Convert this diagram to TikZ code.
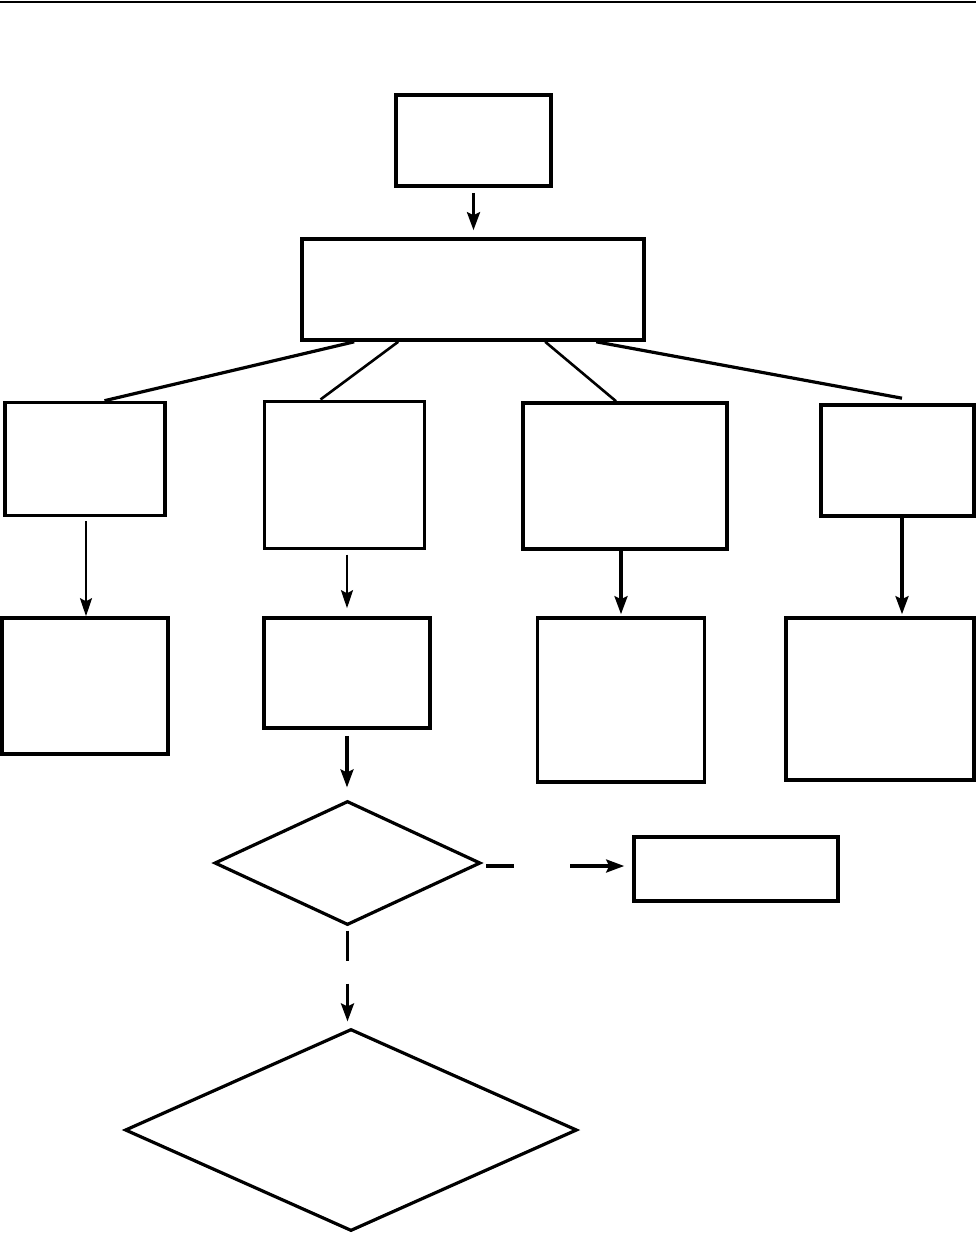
\documentclass[tikz,border=0pt]{standalone}
\usepackage{tikz}
\usetikzlibrary{arrows.meta}
\usetikzlibrary{shapes.geometric,calc}

\begin{document}
\begin{tikzpicture}[x=1pt,y=-1pt,
	box/.style={draw, rectangle, line width=3.6pt, inner sep=0pt},
	dec/.style={draw, diamond, line width=3.2pt, inner sep=0pt},
	arr/.style={-{Stealth[length=18pt,width=13pt,inset=3pt]}, line width=3.2pt},
	tarr/.style={-{Stealth[length=18pt,width=12pt,inset=3pt]}, line width=2pt},
	link/.style={line width=3.2pt}]
	\useasboundingbox (0,0) rectangle (976,1234);
	\draw[line width=1.8pt] (0,2) -- (976,2);
	% top
	\node[box, minimum width=155pt, minimum height=91pt] (s) at (473.5,140.5) {};
	\node[box, minimum width=342pt, minimum height=101pt] (m) at (473,289.5) {};
	% second row
	\node[box, minimum width=160pt, minimum height=113pt] (a) at (85,459) {};
	\node[box, line width=3pt, minimum width=160pt, minimum height=147pt] (b) at (344,474.5) {};
	\node[box, minimum width=204pt, minimum height=146pt] (c) at (625,476) {};
	\node[box, minimum width=153pt, minimum height=111pt] (d) at (897.5,460.5) {};
	% third row
	\node[box, minimum width=166pt, minimum height=136pt] (a2) at (85,686) {};
	\node[box, minimum width=166pt, minimum height=110pt] (b2) at (347,673) {};
	\node[box, minimum width=167pt, minimum height=164pt] (c2) at (621,700) {};
	\node[box, minimum width=188pt, minimum height=162pt] (d2) at (880,699) {};
	% decisions
	\node[dec, minimum width=266pt, minimum height=124pt] (q1) at (347.5,863) {};
	\node[box, minimum width=204pt, minimum height=64pt] (r) at (736,869) {};
	\node[dec, minimum width=452pt, minimum height=202pt] (q2) at (351,1130) {};

	\draw[arr, shorten <=5pt, shorten >=7pt] (s.south) -- (s.south |- m.north);
	\draw[link] ([xshift=54pt]m.south west) -- ([xshift=19.5pt]a.north);
	\draw[link, line width=2.6pt] ([xshift=98pt]m.south west) -- ([xshift=-23.5pt]b.north);
	\draw[link, line width=2.6pt] ([xshift=245pt]m.south west) -- ([xshift=-9pt]c.north);
	\draw[link] ([xshift=296pt]m.south west) -- ([xshift=4.5pt,yshift=5pt]d.north);

	\draw[tarr, shorten <=4pt] ([xshift=1pt]a.south) -- ([xshift=1pt]a.south |- a2.north);
	\draw[tarr, shorten <=5pt, shorten >=8pt] ([xshift=3pt]b.south) -- ([xshift=3pt]b.south |- b2.north);
	\draw[arr, shorten >=2pt] (c.south -| c2.north) -- (c2.north);
	\draw[arr, shorten >=2pt] ([xshift=4.5pt]d.south) -- ([xshift=4.5pt]d.south |- d2.north);
	\draw[arr, shorten <=6pt, shorten >=12pt] (b2.south) -- (b2.south |- q1.north);

	\coordinate (g1) at ($(q1.east)+(32,3)$);
	\coordinate (g2) at ($(q1.east)+(88,3)$);
	\draw[link] ([xshift=4pt]q1.east |- g1) -- (g1);
	\draw[arr, shorten >=8pt] (g2) -- (g2 -| r.west);
	\coordinate (g3) at ($(q1.south)+(0,34)$);
	\coordinate (g4) at ($(q1.south)+(0,57)$);
	\draw[link] ([yshift=-4pt]q1.south) -- (g3);
	\draw[arr, shorten >=6pt] (g4) -- (g4 |- q2.north);
\end{tikzpicture}
\end{document}
